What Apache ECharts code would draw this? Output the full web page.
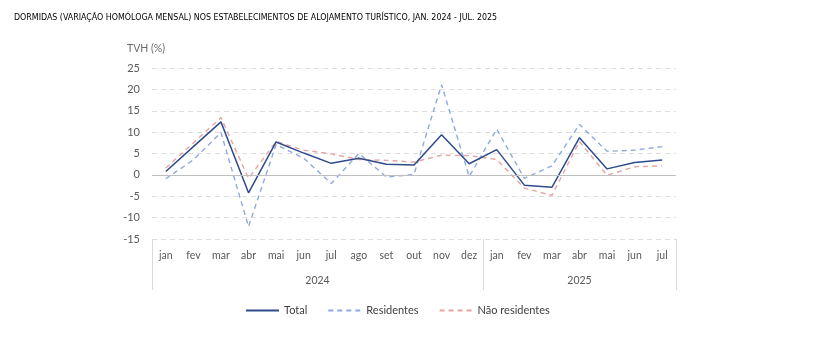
<!DOCTYPE html>
<html>
<head>
<meta charset="utf-8">
<script src="https://cdn.jsdelivr.net/npm/echarts@6/dist/echarts.min.js"></script>
<style>html,body{margin:0;padding:0;background:#fff;}#c{width:835px;height:345px;}</style>
</head>
<body>
<div id="c"></div>
<script>
const months = ['jan','fev','mar','abr','mai','jun','jul','ago','set','out','nov','dez','jan','fev','mar','abr','mai','jun','jul'];
const years = ['2024', '2025'];
const yearLabelPositions = [6, 15.5];
const yearBoundaries = [0, 12, 19];
const total = [0.8, 6.6, 12.4, -4.2, 7.7, 5.1, 2.7, 3.9, 2.5, 2.3, 9.4, 2.6, 5.9, -2.4, -2.9, 8.7, 1.4, 2.9, 3.5];
const residentes = [-0.9, 3.5, 9.9, -12.1, 7.1, 3.9, -2.0, 5.0, -0.5, 0.1, 21.1, -0.4, 10.7, -0.8, 2.1, 11.8, 5.5, 5.8, 6.6];
const naoResidentes = [1.6, 7.5, 13.4, -0.8, 7.8, 5.8, 4.9, 3.6, 3.4, 3.0, 4.6, 4.5, 3.6, -3.1, -4.8, 7.8, -0.1, 1.9, 2.1];

const FONT = 'Lato';
const TITLE_FONT = '"Liberation Sans Narrow", "DejaVu Sans Condensed", sans-serif';
const chart = echarts.init(document.getElementById('c'), null, {renderer: 'canvas'});
chart.setOption({
  animation: false,
  backgroundColor: '#fff',
  title: {
    text: 'DORMIDAS (VARIAÇÃO HOMÓLOGA MENSAL) NOS ESTABELECIMENTOS DE ALOJAMENTO TURÍSTICO, JAN. 2024 - JUL. 2025',
    left: 14, top: 13, padding: 0,
    textStyle: {fontFamily: TITLE_FONT, fontSize: 8.8, fontWeight: 'normal', color: '#000'}
  },
  legend: {
    left: 240, top: 300, itemWidth: 33, itemHeight: 10, itemGap: 20,
    itemStyle: {opacity: 0},
    textStyle: {fontFamily: FONT, fontSize: 11, color: '#404040'},
    data: ['Total', 'Residentes', 'Não residentes']
  },
  grid: {left: 152, right: 159, top: 68, bottom: 106, containLabel: false},
  xAxis: [{
    type: 'category', data: months, boundaryGap: true,
    axisLine: {show: false}, axisTick: {show: false},
    axisLabel: {fontFamily: FONT, fontSize: 10.5, color: '#595959', margin: 11, interval: 0}
  }, {
    type: 'value', min: 0, max: 19, position: 'bottom',
    axisLine: {show: false}, splitLine: {show: false},
    axisTick: {show: true, customValues: yearBoundaries, length: 51, inside: false, lineStyle: {color: '#d9d9d9'}},
    axisLabel: {customValues: yearLabelPositions, margin: 36, fontFamily: FONT, fontSize: 10.5, color: '#595959',
      formatter: function (v) { return years[yearLabelPositions.indexOf(v)]; }}
  }],
  yAxis: {
    type: 'value', min: -15, max: 25, interval: 5,
    name: 'TVH (%)', nameLocation: 'end', nameGap: 14,
    nameTextStyle: {fontFamily: FONT, fontSize: 10.5, color: '#6b6b6b', align: 'center', padding: [0, 12, 0, 0]},
    axisLine: {show: false}, axisTick: {show: false},
    axisLabel: {fontFamily: FONT, fontSize: 11, color: '#595959', margin: 12},
    splitLine: {lineStyle: {color: '#dedede', type: [5, 4]}}
  },
  series: [{
    name: 'Não residentes', type: 'line', data: naoResidentes, symbol: 'none', z: 2,
    lineStyle: {color: '#E6A4A4', width: 1.4, type: [5, 4]}, itemStyle: {color: '#E6A4A4'}
  }, {
    name: 'Residentes', type: 'line', data: residentes, symbol: 'none', z: 3,
    lineStyle: {color: '#8FAADC', width: 1.4, type: [5, 4]}, itemStyle: {color: '#8FAADC'}
  }, {
    name: 'Total', type: 'line', data: total, symbol: 'none', z: 4,
    lineStyle: {color: '#2F4B8C', width: 1.5}, itemStyle: {color: '#2F4B8C'},
    markLine: {silent: true, symbol: 'none', label: {show: false},
      lineStyle: {color: '#bfbfbf', width: 1, type: 'solid'}, data: [{yAxis: 0}]}
  }]
});
</script>
</body>
</html>
